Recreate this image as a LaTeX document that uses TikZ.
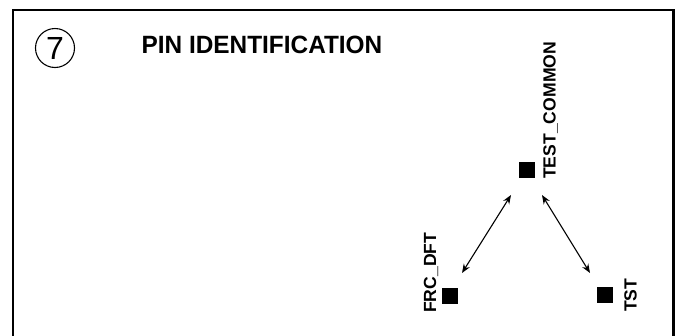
\documentclass[tikz,border=0pt]{standalone}
\usepackage{fontspec}
\setmainfont{Liberation Sans}
\usetikzlibrary{arrows.meta}
\tikzset{
  frame/.style={line width=2.2pt, line cap=rect},
  pinsq/.style={fill=black, draw=none, minimum size=16pt, inner sep=0pt, outer sep=0pt},
  pinlabel/.style={rotate=90, anchor=base west, inner sep=0pt, font=\bfseries\fontsize{17.6}{20}\selectfont},
  link/.style={line width=1.1pt, {Stealth[length=9pt,width=7pt]}-{Stealth[length=9pt,width=7pt]}},
}
\begin{document}
\begin{tikzpicture}[x=1pt,y=-1pt]
\useasboundingbox (0,0) rectangle (676,335);
\fill[white] (0,0) rectangle (676,335);
% frame (open at bottom)
\coordinate (fbl) at (13,336);
\coordinate (ftl) at (13,10);
\coordinate (ftr) at (673.5,10);
\coordinate (fbr) at (673.5,336);
\draw[frame] (fbl) -- (ftl) -- (ftr) -- (fbr);
% step number
\node[circle, draw, line width=1.1pt, minimum size=39pt, inner sep=0pt] (num) at (55,48) {\fontsize{32}{34}\selectfont 7};
% title
\node[anchor=base west, inner sep=0pt, font=\bfseries\fontsize{25}{28}\selectfont, xscale=0.975] (title) at (141.5,53.5) {PIN IDENTIFICATION};
% pins
\node[pinsq] (tc) at (526.5,170) {};
\node[pinsq] (frc) at (450,295.5) {};
\node[pinsq] (tst) at (605,295) {};
% labels
\node[pinlabel] (tcl) at (555.5,179) {TEST\_COMMON};
\node[pinlabel] (frcl) at (436,313) {FRC\_DFT};
\node[pinlabel] (tstl) at (636.5,312) {TST};
% connectors
\coordinate (a1) at (511,195);
\coordinate (a2) at (462,273);
\coordinate (b1) at (542,195);
\coordinate (b2) at (590,273);
\draw[link] (a1) -- (a2);
\draw[link] (b1) -- (b2);
\end{tikzpicture}
\end{document}
